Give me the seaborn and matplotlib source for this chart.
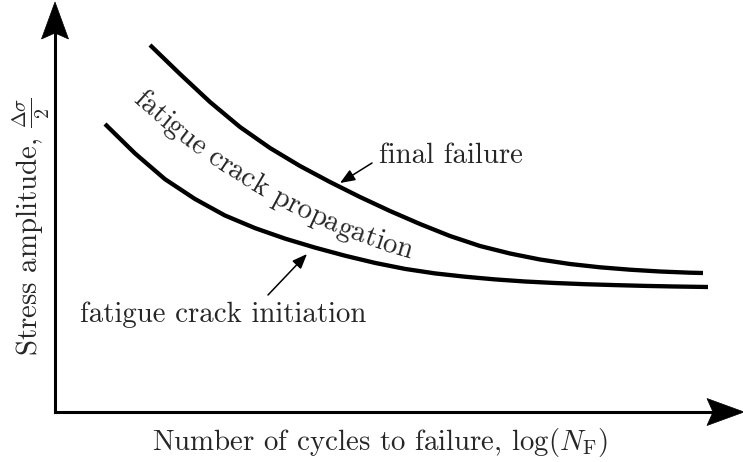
import numpy as np
import matplotlib
matplotlib.use("Agg")
import matplotlib.pyplot as plt
from matplotlib.font_manager import FontProperties
from matplotlib.patches import Polygon
from matplotlib.transforms import ScaledTranslation
import seaborn as sns

# S-N style schematic: log(N_F) on x, stress amplitude on y (arbitrary units)
log_n_final = [0.95, 1.25, 1.55, 1.85, 2.15, 2.45, 2.75, 3.05, 3.35, 3.65,
               3.95, 4.25, 4.55, 4.85, 5.15, 5.45, 5.75, 6.05, 6.35, 6.48]
stress_final = [3.67, 3.38, 3.10, 2.85, 2.64, 2.46, 2.30, 2.15, 2.01, 1.88,
                1.76, 1.66, 1.585, 1.525, 1.48, 1.447, 1.423, 1.405, 1.393, 1.39]

log_n_init = [0.50, 0.80, 1.10, 1.40, 1.70, 2.00, 2.30, 2.60, 2.90, 3.20,
              3.50, 3.80, 4.10, 4.40, 4.70, 5.00, 5.30, 5.60, 5.90, 6.20, 6.53]
stress_init = [2.88, 2.586, 2.328, 2.13, 1.965, 1.839, 1.734, 1.644, 1.563,
               1.491, 1.431, 1.386, 1.353, 1.326, 1.305, 1.29, 1.278, 1.269,
               1.261, 1.255, 1.25]

label_final = "final failure"
label_init = "fatigue crack initiation"
label_region = "fatigue crack propagation"
x_title = r"Number of cycles to failure, $\log(N_\mathrm{F})$"
y_title = r"Stress amplitude, $\frac{\Delta\sigma}{2}$"

sns.set_theme(style="white")
plt.rcParams["font.family"] = ["cmr10", "DejaVu Serif"]
plt.rcParams["mathtext.fontset"] = "cm"
plt.rcParams["axes.formatter.use_mathtext"] = True

FS = 20.8

fig = plt.figure(figsize=(7.43, 4.62), dpi=100)
ax = fig.add_axes([0, 0, 1, 1])
ax.set_xlim(-0.55, 6.88)
ax.set_ylim(-0.50, 4.12)
ax.axis("off")

# the two life curves
sns.lineplot(x=log_n_final, y=stress_final, ax=ax, color="black", lw=3.1,
             sort=False, estimator=None, solid_capstyle="butt",
             solid_joinstyle="round")
sns.lineplot(x=log_n_init, y=stress_init, ax=ax, color="black", lw=3.1,
             sort=False, estimator=None, solid_capstyle="butt",
             solid_joinstyle="round")

# axes: plain lines finished with notched (stealth-like) arrow heads
ax.plot([0, 0], [0, 3.85], color="black", lw=2.2, solid_capstyle="projecting")
ax.plot([0, 6.6], [0, 0], color="black", lw=2.2, solid_capstyle="projecting")


def arrow_head(ax, tip, direction, length=0.37, half_width=0.135, notch=0.06):
    """Filled head in inches, anchored at a data-space tip."""
    d = np.asarray(direction, float)
    d /= np.hypot(*d)
    n = np.array([-d[1], d[0]])
    verts = [np.zeros(2),
             -length * d + half_width * n,
             -(length - notch) * d,
             -length * d - half_width * n]
    trans = fig.dpi_scale_trans + ScaledTranslation(*tip, ax.transData)
    ax.add_patch(Polygon(verts, closed=True, facecolor="black",
                         edgecolor="black", lw=0.5, transform=trans,
                         clip_on=False))


arrow_head(ax, (0, 4.10), (0, 1))
arrow_head(ax, (6.89, 0), (1, 0))

ax.text(3.25, -0.38, x_title, ha="center", va="baseline", fontsize=FS)
ax.text(-0.24, 1.85, y_title, ha="center", va="center", rotation=90,
        fontsize=FS)

# annotations with pointer arrows
pointer = dict(arrowstyle="-|>,head_length=9,head_width=3.6", color="black",
               lw=1.1, shrinkA=0, shrinkB=0, mutation_scale=1)
ax.annotate("", xy=(2.85, 2.29), xytext=(3.17, 2.49), arrowprops=pointer)
ax.text(3.24, 2.49, label_final, ha="left", va="baseline", fontsize=FS)
ax.annotate("", xy=(2.52, 1.58), xytext=(2.13, 1.17), arrowprops=pointer)
ax.text(0.25, 0.90, label_init, ha="left", va="baseline", fontsize=FS)


def text_along_bezier(ax, text, ctrl, fontsize):
    """Lay out characters one by one along a cubic Bezier guide."""
    fig = ax.figure
    fig.canvas.draw()
    renderer = fig.canvas.get_renderer()
    prop = FontProperties(family=plt.rcParams["font.family"], size=fontsize)

    def width(s):
        return renderer.get_text_width_height_descent(s, prop, ismath=False)[0]

    pts = ax.transData.transform(np.asarray(ctrl, float))
    t = np.linspace(0, 1, 600)[:, None]
    curve = ((1 - t) ** 3 * pts[0] + 3 * (1 - t) ** 2 * t * pts[1]
             + 3 * (1 - t) * t ** 2 * pts[2] + t ** 3 * pts[3])
    seg = np.hypot(*np.diff(curve, axis=0).T)
    arc = np.concatenate([[0], np.cumsum(seg)])
    start = (arc[-1] - width(text)) / 2
    inv = ax.transData.inverted()
    for i, ch in enumerate(text):
        if ch == " ":
            continue
        pos = start + width(text[:i + 1]) - width(ch) / 2
        x = np.interp(pos, arc, curve[:, 0])
        y = np.interp(pos, arc, curve[:, 1])
        k = int(np.clip(np.searchsorted(arc, pos), 1, len(arc) - 1))
        dx, dy = curve[k] - curve[k - 1]
        ang = np.degrees(np.arctan2(dy, dx))
        xd, yd = inv.transform((x, y))
        ax.text(xd, yd, ch, fontsize=fontsize, ha="center", va="baseline",
                rotation=ang, rotation_mode="anchor")


text_along_bezier(ax, label_region,
                  [(0.76, 3.12), (1.60, 2.35), (2.52, 1.82), (3.56, 1.53)], FS)

fig.savefig("out.png", dpi=100)
